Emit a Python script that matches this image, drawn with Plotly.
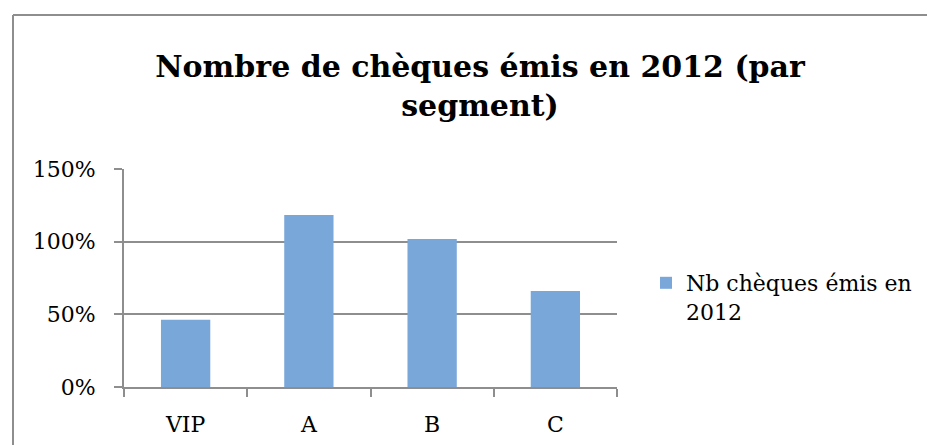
import plotly.graph_objects as go

categories = ["VIP", "A", "B", "C"]
values = [0.462, 1.183, 1.019, 0.661]
series_name = "Nb chèques émis en<br>2012"
title_text = "Nombre de chèques émis en 2012 (par<br>segment)"
y_tickvals = [0, 0.5, 1.0, 1.5]
y_ticktext = ["0%", "50%", "100%", "150%"]

W, H = 935, 445
OFF = 8  # page offset of the figure inside the browser window
L, T = 124 - OFF, 169 - OFF
R = W - (617 - OFF)
B = H - (387 - OFF)
pw = W - L - R
ph = H - T - B

serif = "DejaVu Serif"
grid = "#8e8e8e"

fig = go.Figure()
fig.add_trace(go.Bar(
    x=categories, y=values, name=series_name,
    marker=dict(color="#7aa7da", line=dict(width=0)),
    showlegend=True,
))

def px2paperx(px):
    return (px - OFF - L) / pw

def px2papery(py):
    return (H - B - (py - OFF)) / ph

fig.update_layout(
    width=W, height=H,
    margin=dict(l=L, r=R, t=T, b=B),
    paper_bgcolor="white", plot_bgcolor="white",
    bargap=0.6,
    title=dict(text=title_text, x=(480 - OFF) / W, xanchor="center", y=1 - 69 / H, yanchor="top", yref="container",
               font=dict(family=serif, size=30, color="black", weight="bold")),
    font=dict(family=serif, size=22, color="black"),
    showlegend=True,
    legend=dict(x=px2paperx(646), y=px2papery(262), xanchor="left", yanchor="top",
                valign="top",
                font=dict(family=serif, size=22), bgcolor="rgba(0,0,0,0)",
                itemwidth=30, tracegroupgap=0),
    xaxis=dict(type="category", showline=True, linecolor=grid, linewidth=2,
               ticks="outside", ticklen=8, tickcolor=grid, tickwidth=1.5, tickson="boundaries",
               ticklabelstandoff=17,
               showgrid=False, tickfont=dict(family=serif, size=22), fixedrange=True),
    yaxis=dict(range=[0, 1.5], tickvals=y_tickvals, ticktext=y_ticktext,
               showline=True, linecolor=grid, linewidth=2,
               ticks="outside", ticklen=8, tickcolor=grid, tickwidth=1.5,
               ticklabelstandoff=14,
               showgrid=True, gridcolor=grid, gridwidth=2, zeroline=False,
               tickfont=dict(family=serif, size=22), fixedrange=True),
    shapes=[
        dict(type="line", xref="paper", yref="paper", x0=px2paperx(13), x1=px2paperx(960),
             y0=px2papery(15), y1=px2papery(15), line=dict(color=grid, width=2)),
        dict(type="line", xref="paper", yref="paper", x0=px2paperx(13), x1=px2paperx(13),
             y0=px2papery(15), y1=px2papery(470), line=dict(color=grid, width=2)),
    ],
)

fig.write_html("out.html")
